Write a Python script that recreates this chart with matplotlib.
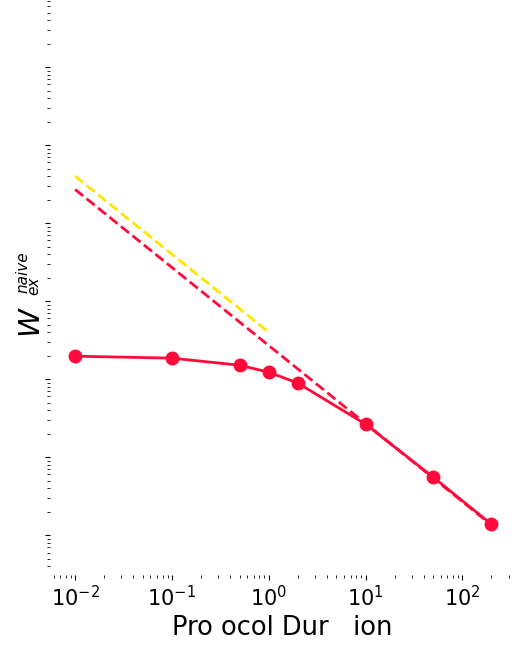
import matplotlib
matplotlib.use("Agg")
import matplotlib.pyplot as plt
import numpy as np

# protocol durations and measured values
durations = [0.01, 0.1, 0.5, 1, 2, 10, 50, 200]
w_naive = [1.97, 1.86, 1.51, 1.23, 0.89, 0.265, 0.0554, 0.0138]

# asymptotic 1/t guides
red_guide_t = [0.01, 200]
red_guide_c = 2.7
yellow_guide_t = [0.01, 1]
yellow_guide_c = 4.0

red = '#ff0a3a'
yellow = '#ffe600'

W, H = 516, 646
fig = plt.figure(figsize=(W / 100, H / 100), dpi=100)
ax = fig.add_axes([50 / W, 71 / H, 465 / W, 575 / H])

t = np.array(yellow_guide_t)
ax.plot(t, yellow_guide_c / t, '--', color=yellow, lw=2)
t = np.array(red_guide_t)
ax.plot(t, red_guide_c / t, '--', color=red, lw=2)
ax.plot(durations, w_naive, '-o', color=red, lw=2, markersize=9)

ax.set_xscale('log')
ax.set_yscale('log')
ax.set_xlim(0.0055, 350)
ax.set_ylim(10 ** -2.51, 10 ** 4.86)

for s in ax.spines.values():
    s.set_visible(False)
ax.tick_params(axis='y', labelleft=False)
ax.tick_params(axis='x', labelsize=15)
ax.yaxis.set_minor_locator(matplotlib.ticker.LogLocator(base=10, subs=np.arange(2, 10), numticks=20))
ax.yaxis.set_major_locator(matplotlib.ticker.LogLocator(base=10, numticks=20))

ax.set_xlabel('Pro ocol Dur   ion', fontsize=18.5)

# y label W_ex^naive built from pieces so the scripts sit inside the W height
kw = dict(rotation=90, rotation_mode='anchor', ha='left', va='baseline', fontstyle='italic')
fig.text(37 / W, (H - 335) / H, 'W', fontsize=21, **kw)
fig.text(27.5 / W, (H - 293) / H, 'naive', fontsize=11, **kw)
fig.text(38 / W, (H - 295) / H, 'ex', fontsize=11, **kw)

fig.savefig('out.png', dpi=100)
